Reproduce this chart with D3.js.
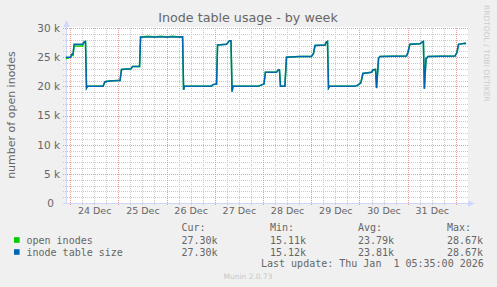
<!DOCTYPE html>
<html>
<head>
<meta charset="utf-8">
<script src="https://cdn.jsdelivr.net/npm/d3@7"></script>
<style>
  body { margin: 0; background: #f0f0f0; }
  svg { display: block; }
</style>
</head>
<body>
<script>
// hours since 24 Dec 00:00 (UTC), values in inodes
const hours = [-2, 0.25, 0.75, 1.5, 2, 6.2, 6.7, 7.2, 7.7, 8.2, 8.7,
  16.4, 17.4, 19.9, 23.9, 24.9, 25.6, 30.3, 31.1, 34.6, 35.1,
  39, 42, 45, 48, 51, 54, 56, 56.5, 57,
  70.4, 71.1, 72.9, 73.4, 77.8, 78.6, 79.3, 80.1, 80.6, 81.1,
  93.5, 95, 96.5, 97.2, 102.7, 103.5, 104.2, 104.7, 106.9, 107.7,
  114.4, 120.1, 121.1, 121.9, 126.9, 127.3, 128.1, 128.6, 129.1,
  141.8, 143.2, 144.7, 145.7, 150, 150.7, 152, 152.5, 153.5, 154.2,
  167.4, 168.1, 169.1, 174.1, 175.3, 175.8, 176.3, 177.1, 178.1,
  191.5, 192.5, 193.3, 196.5, 197];

const openInodes = [24700, 25000, 25300, 25300, 26900, 26900, 27300, 27600, 27700, 19700, 20000,
  20000, 20800, 20900, 21000, 21000, 22900, 23000, 23400, 23400, 28450,
  28600, 28450, 28600, 28450, 28600, 28450, 28500, 19400, 20000,
  20000, 20300, 20400, 27100, 27200, 27500, 27800, 27800, 19100, 20000,
  20000, 20200, 20400, 22400, 22400, 22800, 22800, 20000, 20000, 25000,
  25100, 25100, 25600, 27000, 27100, 27500, 27700, 19700, 20000,
  20000, 20200, 20600, 22200, 22400, 22800, 22900, 19700, 24800, 25100,
  25200, 25800, 27200, 27300, 27600, 27700, 19600, 24700, 25100,
  25200, 25800, 27200, 27400, 27300];

const tableSize = [25000, 25000, 25500, 25500, 27200, 27200, 27500, 27700, 27700, 19700, 20000,
  20000, 20800, 20900, 21000, 21000, 22900, 23000, 23400, 23400, 28450,
  28450, 28450, 28450, 28450, 28450, 28450, 28500, 19400, 20000,
  20000, 20300, 20400, 27100, 27200, 27500, 27800, 27800, 19100, 20000,
  20000, 20200, 20400, 22400, 22400, 22800, 22800, 20000, 20000, 25000,
  25100, 25100, 25600, 27000, 27100, 27500, 27700, 19700, 20000,
  20000, 20200, 20600, 22200, 22400, 22800, 22900, 19700, 24800, 25100,
  25200, 25800, 27200, 27300, 27600, 27700, 19600, 24700, 25100,
  25200, 25800, 27200, 27400, 27300];

const yTicks = [0, 5000, 10000, 15000, 20000, 25000, 30000];
const legendNames = ["open inodes", "inode table size"];
const legendColors = ["#00cc00", "#0066b3"];
const legendCur = ["27.30k", "27.30k"];
const legendMin = ["15.11k", "15.12k"];
const legendAvg = ["23.79k", "23.81k"];
const legendMax = ["28.67k", "28.67k"];

const W = 497, H = 287;
const base = Date.UTC(2025, 11, 24);
const hr = 3600 * 1000;
const toDate = h => new Date(base + h * hr);

const x = d3.scaleUtc().domain([toDate(-2), toDate(198)]).range([66, 468]);
const y = d3.scaleLinear().domain([0, 30000]).range([203, 28]);

const svg = d3.select("body").append("svg")
  .attr("width", W).attr("height", H)
  .style("font-family", "'DejaVu Sans', sans-serif");

svg.append("rect").attr("width", W).attr("height", H).attr("fill", "#f0f0f0");
svg.append("rect").attr("x", 66).attr("y", 27).attr("width", 402).attr("height", 176).attr("fill", "#fff");

// grid, dotted, pixel aligned
const grid = svg.append("g").attr("shape-rendering", "crispEdges").attr("stroke-dasharray", "1,1");
const minorCol = "#cbcbcb", majorCol = "#eb9a9a";
const minorY = d3.range(1000, 30001, 1000).filter(v => v % 5000 !== 0);
grid.selectAll(".hmin").data(minorY).enter().append("line")
  .attr("x1", 63).attr("x2", 468)
  .attr("y1", d => Math.round(y(d)) + 0.5).attr("y2", d => Math.round(y(d)) + 0.5)
  .attr("stroke", minorCol);
const minorX = d3.utcHour.every(6).range(toDate(-2), toDate(198)).filter(d => d.getUTCHours() !== 0);
grid.selectAll(".vmin").data(minorX).enter().append("line")
  .attr("x1", d => Math.round(x(d)) + 0.5).attr("x2", d => Math.round(x(d)) + 0.5)
  .attr("y1", 28).attr("y2", 206)
  .attr("stroke", minorCol);
grid.selectAll(".hmaj").data(yTicks.filter(d => d > 0)).enter().append("line")
  .attr("x1", 63).attr("x2", 468)
  .attr("y1", d => Math.round(y(d)) + 0.5).attr("y2", d => Math.round(y(d)) + 0.5)
  .attr("stroke", majorCol);
const days = d3.utcDay.range(toDate(-2), toDate(198));
grid.selectAll(".vmaj").data(days).enter().append("line")
  .attr("x1", d => Math.round(x(d)) + 0.5).attr("x2", d => Math.round(x(d)) + 0.5)
  .attr("y1", 28).attr("y2", 206)
  .attr("stroke", majorCol);

// axes lines + arrows
const axisCol = "#cfd6f8";
svg.append("line").attr("x1", 66.5).attr("x2", 66.5).attr("y1", 24).attr("y2", 204).attr("stroke", axisCol);
svg.append("line").attr("x1", 63).attr("x2", 470).attr("y1", 203.5).attr("y2", 203.5).attr("stroke", axisCol);
svg.append("path").attr("d", "M63.5,27 L66.5,20 L69.5,27 Z").attr("fill", axisCol);
svg.append("path").attr("d", "M468,200.5 L475,203.5 L468,206.5 Z").attr("fill", axisCol);

// y axis labels
const yAxis = svg.append("g").attr("transform", "translate(60,0)")
  .call(d3.axisLeft(y).tickValues(yTicks).tickSize(0).tickPadding(0)
    .tickFormat(d => d === 0 ? "0" : (d / 1000) + " k"));
yAxis.select(".domain").remove();
yAxis.selectAll("text").attr("fill", "#666").attr("font-size", 10.5)
  .attr("font-family", "'DejaVu Sans', sans-serif")
  .attr("dx", d => d === 0 ? -6 : 0);

// x axis labels at noon
const noons = days.map(d => d3.utcHour.offset(d, 12)).filter(d => x(d) < 468);
const xAxis = svg.append("g").attr("transform", "translate(0,207)")
  .call(d3.axisBottom(x).tickValues(noons).tickSize(0).tickPadding(0)
    .tickFormat(d3.utcFormat("%d %b")));
xAxis.select(".domain").remove();
xAxis.selectAll("text").attr("fill", "#666").attr("font-size", 9.5)
  .attr("font-family", "'DejaVu Sans', sans-serif");

// series
const line = d3.line().x((d, i) => x(toDate(hours[i]))).y(d => y(d));
svg.append("path").attr("d", line(openInodes)).attr("fill", "none")
  .attr("stroke", legendColors[0]).attr("stroke-width", 1.5);
svg.append("path").attr("d", line(tableSize)).attr("fill", "none")
  .attr("stroke", legendColors[1]).attr("stroke-width", 1.5);

// titles
svg.append("text").attr("x", 248).attr("y", 22).attr("text-anchor", "middle")
  .attr("font-size", 12.7).attr("fill", "#666").text("Inode table usage - by week");
svg.append("text").attr("transform", "translate(15,115) rotate(-90)").attr("text-anchor", "middle")
  .attr("font-size", 11).attr("fill", "#666").text("number of open inodes");
svg.append("text").attr("transform", "translate(484,5) rotate(90)")
  .attr("font-size", 7.5).attr("fill", "#ccc").text("RRDTOOL / TOBI OETIKER");

// legend
const mono = "'DejaVu Sans Mono', monospace";
const leg = svg.append("g").attr("font-family", mono).attr("font-size", 10).attr("fill", "#666");
const cols = [181.5, 270, 358, 447];
["Cur:", "Min:", "Avg:", "Max:"].forEach((t, i) =>
  leg.append("text").attr("x", cols[i]).attr("y", 231).text(t));
legendNames.forEach((name, i) => {
  const by = 243.5 + i * 12;
  leg.append("rect").attr("x", 14).attr("y", by - 6.3).attr("width", 5.6).attr("height", 5.6)
    .attr("fill", legendColors[i]);
  leg.append("text").attr("x", 26.5).attr("y", by).text(name);
  [legendCur[i], legendMin[i], legendAvg[i], legendMax[i]].forEach((v, j) =>
    leg.append("text").attr("x", cols[j]).attr("y", by).text(v));
});
leg.append("text").attr("x", 261).attr("y", 267).attr("xml:space", "preserve")
  .style("white-space", "pre").text("Last update: Thu Jan  1 05:35:00 2026");
svg.append("text").attr("x", 248).attr("y", 279).attr("text-anchor", "middle")
  .attr("font-size", 7.5).attr("fill", "#c8c8c8").text("Munin 2.0.73");
</script>
</body>
</html>
